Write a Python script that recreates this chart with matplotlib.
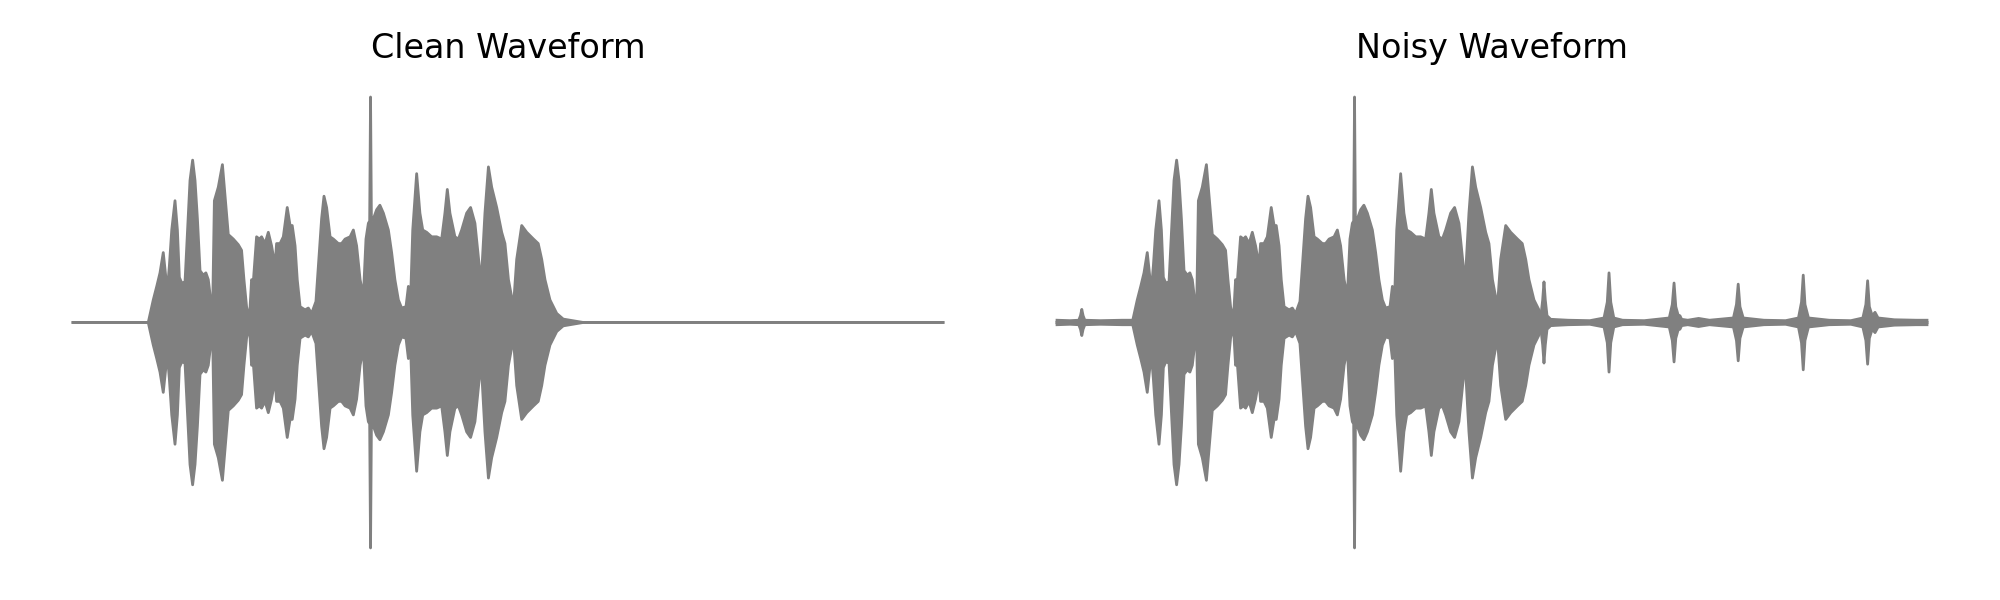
import numpy as np
import matplotlib.pyplot as plt

# envelope of the speech clip
# (time in s, amplitude normalised to the tallest spike)
clean_t = [0.0, 0.346, 0.369, 0.385, 0.400, 0.415, 0.428, 0.434, 0.443, 0.454,
           0.469, 0.480, 0.489, 0.500, 0.515, 0.523, 0.538, 0.550, 0.561, 0.572,
           0.584, 0.599, 0.611, 0.622, 0.633, 0.642, 0.650, 0.668, 0.687, 0.699,
           0.714, 0.737, 0.760, 0.775, 0.786, 0.798, 0.811, 0.821, 0.829, 0.844,
           0.857, 0.867, 0.883, 0.898, 0.913, 0.929, 0.936, 0.952, 0.967, 0.985,
           0.998, 1.008, 1.021, 1.031, 1.044, 1.067, 1.082, 1.097, 1.117, 1.128,
           1.143, 1.154, 1.166, 1.182, 1.197, 1.220, 1.235, 1.251, 1.274, 1.289,
           1.304, 1.320, 1.335, 1.347, 1.358, 1.364, 1.368, 1.372, 1.381, 1.396,
           1.411, 1.427, 1.450, 1.465, 1.480, 1.496, 1.511, 1.531, 1.542, 1.552,
           1.562, 1.580, 1.595, 1.608, 1.626, 1.649, 1.672, 1.695, 1.710, 1.721,
           1.733, 1.756, 1.772, 1.787, 1.810, 1.828, 1.848, 1.868, 1.879, 1.894,
           1.910, 1.925, 1.948, 1.971, 1.986, 2.002, 2.025, 2.040, 2.063, 2.086,
           2.117, 2.139, 2.155, 2.170, 2.193, 2.224, 2.254, 2.346, 4.0]
clean_env = [0, 0, 0.10, 0.16, 0.22, 0.31, 0.19, 0.145, 0.25, 0.41,
             0.54, 0.41, 0.20, 0.175, 0.18, 0.34, 0.63, 0.72, 0.63, 0.46,
             0.23, 0.21, 0.22, 0.19, 0.10, 0.056, 0.54, 0.60, 0.70, 0.56,
             0.39, 0.37, 0.345, 0.32, 0.19, 0.07, 0.012, 0.19, 0.18, 0.38,
             0.37, 0.38, 0.35, 0.40, 0.34, 0.25, 0.35, 0.35, 0.38, 0.51,
             0.43, 0.43, 0.34, 0.19, 0.07, 0.056, 0.064, 0.04, 0.093, 0.25,
             0.46, 0.56, 0.51, 0.38, 0.37, 0.35, 0.35, 0.37, 0.38, 0.41,
             0.34, 0.19, 0.115, 0.37, 0.44, 0.45, 1.0, 0.45, 0.46, 0.50,
             0.52, 0.485, 0.41, 0.31, 0.19, 0.10, 0.064, 0.07, 0.16, 0.10,
             0.41, 0.66, 0.485, 0.41, 0.40, 0.38, 0.38, 0.37, 0.485, 0.59,
             0.485, 0.38, 0.37, 0.41, 0.485, 0.51, 0.44, 0.25, 0.22, 0.485,
             0.69, 0.60, 0.51, 0.40, 0.35, 0.19, 0.07, 0.28, 0.43, 0.40,
             0.37, 0.35, 0.28, 0.19, 0.10, 0.04, 0.015, 0, 0]

# extra noise in the noisy clip: floor, an early blip and six clicks
noise_t = [0.0, 0.060, 0.100, 0.108, 0.114, 0.120, 0.128, 0.200, 0.300, 2.200,
           2.225, 2.233, 2.239, 2.245, 2.253, 2.270, 2.350, 2.450, 2.515, 2.530,
           2.538, 2.546, 2.560, 2.600, 2.700, 2.815, 2.829, 2.837, 2.845, 2.858,
           2.864, 2.872, 2.900, 2.950, 3.000, 3.110, 3.124, 3.132, 3.140, 3.155,
           3.250, 3.350, 3.409, 3.423, 3.431, 3.439, 3.455, 3.550, 3.650, 3.705,
           3.719, 3.727, 3.735, 3.748, 3.761, 3.775, 3.850, 3.950, 4.0]
noise_amp = [0.010, 0.008, 0.010, 0.030, 0.058, 0.030, 0.010, 0.008, 0.010, 0.010,
             0.03, 0.10, 0.18, 0.10, 0.03, 0.014, 0.010, 0.008, 0.02, 0.09,
             0.22, 0.09, 0.02, 0.010, 0.008, 0.02, 0.08, 0.175, 0.07, 0.025,
             0.03, 0.014, 0.010, 0.018, 0.010, 0.02, 0.08, 0.17, 0.07, 0.02,
             0.010, 0.008, 0.02, 0.09, 0.21, 0.08, 0.02, 0.010, 0.008, 0.02,
             0.08, 0.185, 0.07, 0.03, 0.045, 0.02, 0.012, 0.010, 0.010]

titles = ["Clean Waveform", "Noisy Waveform"]
color = "gray"


def draw_env(ax, t, env):
    t = np.asarray(t)
    env = np.asarray(env)
    ax.fill_between(t, -env, env, color=color, lw=0)
    ax.plot(t, env, color=color, lw=1.0)
    ax.plot(t, -env, color=color, lw=1.0)


fig = plt.figure(figsize=(10, 3), dpi=200)
ax1 = fig.add_axes([0.01475, 0.0492, 0.4785, 0.8267])
ax2 = fig.add_axes([0.50675, 0.0492, 0.4785, 0.8267])

draw_env(ax1, clean_t, clean_env)

draw_env(ax2, noise_t, noise_amp)
draw_env(ax2, clean_t, clean_env)

for ax, title in zip([ax1, ax2], titles):
    ax.set_title(title)
    ax.axis("off")
    ax.set_ylim(-1.1, 1.1)

fig.savefig("out.png", dpi=200)
